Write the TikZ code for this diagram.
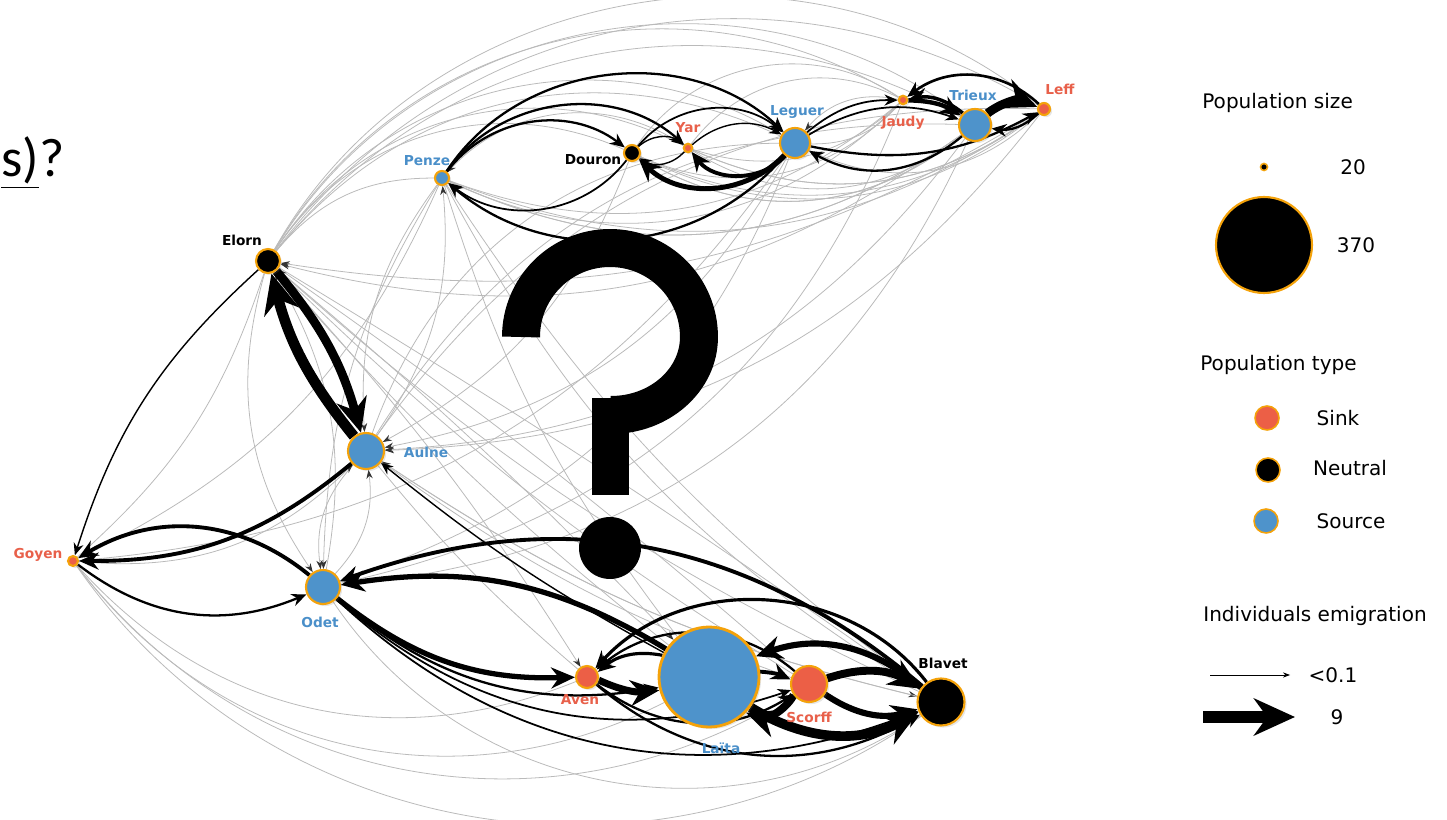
\documentclass[tikz,border=0pt]{standalone}
\usepackage{fontspec}
\setmainfont{DejaVu Sans}
\newfontfamily\titlefont{Carlito}
\usetikzlibrary{arrows.meta,shadows}

\definecolor{srcblue}{HTML}{4E93CB}
\definecolor{sinkred}{HTML}{EC5F46}
\definecolor{ring}{HTML}{F4A20A}
\definecolor{lblblue}{HTML}{4A8FC9}
\definecolor{lblred}{HTML}{E8604A}

\pgfdeclarelayer{edges}
\pgfsetlayers{edges,main}

\tikzset{
  pop/.style={circle, draw=ring, line width=1.2pt, inner sep=0pt, minimum size=#1,
    drop shadow={shadow xshift=1.2pt, shadow yshift=-1.2pt, opacity=0.2}},
  sink/.style={pop=#1, fill=sinkred},
  neutral/.style={pop=#1, fill=black},
  source/.style={pop=#1, fill=srcblue},
  keydot/.style={circle, draw=ring, line width=0.9pt, inner sep=0pt, minimum size=#1},
  lbl/.style={font=\fontsize{7.8}{9}\selectfont\bfseries, inner sep=0pt},
  key/.style={font=\fontsize{11.4}{13}\selectfont, inner sep=0pt},
  flow/.style={draw=black, line width=#1, -{Stealth[length=4.5pt 3, width=3.5pt 2.8]}},
  faint/.style={draw=black!27, line width=0.45pt},
  faintarrow/.style={faint, -{Stealth[length=5pt, width=3.6pt, color=black!80]}},
}

\begin{document}
\begin{tikzpicture}[x=0.02cm, y=-0.02cm]
    \useasboundingbox (0,0) rectangle (1447,820);

    % slide title, at the left edge
    \node [anchor=base west, inner sep=0pt, font=\titlefont\fontsize{31}{31}\selectfont] (title) at (1,177) {\underline{s)}?};

    % populations
    \node [source=0.28cm]  (penze)  at (442,178) {};
    \node [neutral=0.32cm] (douron) at (632,153) {};
    \node [sink=0.17cm]    (yar)    at (688,148) {};
    \node [source=0.6cm]   (leguer) at (795,143) {};
    \node [sink=0.17cm]    (jaudy)  at (903,100) {};
    \node [source=0.64cm]  (trieux) at (975,125) {};
    \node [sink=0.24cm]    (leff)   at (1044,109) {};
    \node [neutral=0.48cm] (elorn)  at (268,261) {};
    \node [source=0.72cm]  (aulne)  at (366,451) {};
    \node [sink=0.2cm]     (goyen)  at (73,561) {};
    \node [source=0.68cm]  (odet)   at (323,587) {};
    \node [sink=0.44cm]    (aven)   at (587,677) {};
    \node [source=2cm, line width=1.6pt] (laita) at (709,677) {};
    \node [sink=0.72cm]    (scorff) at (809,684) {};
    \node [neutral=0.94cm] (blavet) at (941,702) {};

    \node [lbl, text=lblblue] (penze-t)  at (427,161) {Penze};
    \node [lbl]               (douron-t) at (593,160) {Douron};
    \node [lbl, text=lblred]  (yar-t)    at (688,128) {Yar};
    \node [lbl, text=lblblue] (leguer-t) at (797,112) {Leguer};
    \node [lbl, text=lblred]  (jaudy-t)  at (903,123) {Jaudy};
    \node [lbl, text=lblblue] (trieux-t) at (973,95)  {Trieux};
    \node [lbl, text=lblred]  (leff-t)   at (1060,89) {Leff};
    \node [lbl]               (elorn-t)  at (242,240) {Elorn};
    \node [lbl, text=lblblue] (aulne-t)  at (426,452) {Aulne};
    \node [lbl, text=lblred]  (goyen-t)  at (38,555)  {Goyen};
    \node [lbl, text=lblblue] (odet-t)   at (320,622) {Odet};
    \node [lbl, text=lblred]  (aven-t)   at (580,700) {Aven};
    \node [lbl, text=lblblue] (laita-t)  at (721,748) {Laïta};
    \node [lbl, text=lblred]  (scorff-t) at (809,717) {Scorff};
    \node [lbl]               (blavet-t) at (943,663) {Blavet};

    \begin{pgfonlayer}{edges}
    % weak exchanges
    \foreach \a/\b/\c in {penze/trieux/-30, penze/leff/-28, penze/jaudy/-30, douron/trieux/-35,
        douron/leff/-32, yar/trieux/-35, yar/leff/-30, yar/jaudy/40, douron/jaudy/45,
        leff/douron/30, trieux/penze/30, jaudy/penze/35, jaudy/douron/35, jaudy/yar/30,
        leff/yar/30, trieux/douron/35, leff/leguer/35, jaudy/leguer/25,
        elorn/leff/50, elorn/trieux/48, elorn/jaudy/46, elorn/leguer/44, elorn/yar/42,
        elorn/douron/40, elorn/penze/25, leff/elorn/-42, trieux/elorn/-40, leguer/elorn/-38,
        aulne/leguer/35, aulne/trieux/30, aulne/leff/28, elorn/scorff/3, scorff/elorn/6,
        aulne/aven/-5, aulne/scorff/-8, penze/laita/-10, penze/blavet/-15, blavet/penze/10,
        goyen/elorn/-15, goyen/penze/-20, goyen/leguer/-25, goyen/aven/-35, goyen/laita/-40,
        goyen/scorff/-42, goyen/blavet/-45, odet/blavet/-45, trieux/odet/30, jaudy/odet/28}
      \draw [faint] (\a) to [bend left=\c] (\b);
    \foreach \a/\b/\c in {trieux/elorn/25, leff/elorn/20, penze/aulne/-20, aulne/penze/-20,
        elorn/odet/-25, odet/elorn/-20, penze/odet/-15, aulne/odet/-25, odet/aulne/-25,
        goyen/aulne/-25, elorn/aven/5, elorn/laita/3, elorn/blavet/2, aulne/blavet/-10,
        blavet/elorn/8, blavet/aulne/10, laita/elorn/5, leguer/aulne/25, trieux/aulne/25,
        leff/aulne/25, douron/aulne/20, leguer/odet/25, yar/penze/-40, jaudy/leguer/-30}
      \draw [faintarrow] (\a) to [bend left=\c] (\b);

    % north rivers
    \foreach \a/\b/\c/\w in {penze/douron/45/1.3pt, penze/yar/48/1.3pt, penze/leguer/50/1.3pt,
        douron/penze/45/1pt, leguer/penze/45/1.3pt, douron/yar/40/0.8pt, yar/douron/40/0.8pt,
        leguer/douron/45/2.8pt, leguer/yar/50/2.2pt, douron/leguer/45/1pt, yar/leguer/35/0.8pt,
        leguer/jaudy/20/1pt, jaudy/trieux/15/2.5pt, leguer/trieux/25/1pt, leff/jaudy/-40/1.5pt,
        trieux/jaudy/-25/2pt, trieux/leff/30/5pt, leff/trieux/25/1.3pt, leguer/leff/-20/1.3pt,
        trieux/leguer/35/1.3pt}
      \draw [flow=\w] (\a) to [bend left=\c] (\b);

    % west rivers
    \foreach \a/\b/\c/\w in {elorn/aulne/12/5pt, aulne/elorn/12/6pt, aulne/goyen/20/2.2pt,
        odet/goyen/-35/2.2pt, goyen/odet/-30/1.3pt, elorn/goyen/-15/0.8pt, laita/aulne/5/0.8pt}
      \draw [flow=\w] (\a) to [bend left=\c] (\b);

    % south rivers
    \foreach \a/\b/\c/\w in {odet/aven/-20/3pt, odet/laita/-25/1.3pt, odet/scorff/-30/1pt,
        odet/blavet/-32/1pt, laita/odet/-20/3pt, blavet/odet/-30/2.2pt, aven/laita/-15/4pt,
        laita/aven/-25/1.8pt, blavet/aven/-50/1.8pt, scorff/aven/-40/1.3pt, scorff/laita/40/4.5pt,
        blavet/laita/-30/3.5pt, laita/blavet/-30/5.5pt, scorff/blavet/25/4.5pt,
        scorff/blavet/-25/3.5pt, laita/scorff/10/2.2pt, aven/blavet/-35/1.3pt, aven/scorff/-35/1.3pt}
      \draw [flow=\w] (\a) to [bend left=\c] (\b);

    % the question mark
    \draw [line width=0.76cm] (521,337) arc [start angle=180, end angle=0, radius=1.78cm]
        arc [start angle=0, end angle=-90, x radius=1.76cm, y radius=1.56cm];
    \draw [line width=0.74cm] (610.5,398) -- (610.5,495);
    \fill (610,548) circle [radius=0.62cm];
    \end{pgfonlayer}

    % legend
    \node [key, anchor=west] (size-t) at (1202,103) {Population size};
    \node [keydot=0.14cm, fill=black] (small) at (1264,167) {};
    \node [key] (small-t) at (1353,167) {20};
    \node [keydot=1.92cm, fill=black, line width=1.2pt] (large) at (1264,245) {};
    \node [key] (large-t) at (1356,245) {370};

    \node [key, anchor=west] (type-t) at (1200,365) {Population type};
    \node [keydot=0.48cm, fill=sinkred] (sink-k) at (1267,418) {};
    \node [key] (sink-t) at (1338,418) {Sink};
    \node [keydot=0.48cm, fill=black] (neutral-k) at (1268,470) {};
    \node [key] (neutral-t) at (1350,468) {Neutral};
    \node [keydot=0.48cm, fill=srcblue] (source-k) at (1266,521) {};
    \node [key] (source-t) at (1351,521) {Source};

    \node [key, anchor=west] (emig-t) at (1203,616) {Individuals emigration};
    \coordinate (thin-a) at (1210,675);
    \coordinate (thin-b) at (1290,675);
    \draw [line width=0.5pt, -{Stealth[length=4pt, width=3pt]}] (thin-a) -- (thin-b);
    \node [key] (thin-t) at (1333,675) {<0.1};
    \coordinate (thick-a) at (1203,717);
    \coordinate (thick-b) at (1295,717);
    \draw [flow=6.3pt] (thick-a) -- (thick-b);
    \node [key] (thick-t) at (1337,717) {9};
\end{tikzpicture}
\end{document}
